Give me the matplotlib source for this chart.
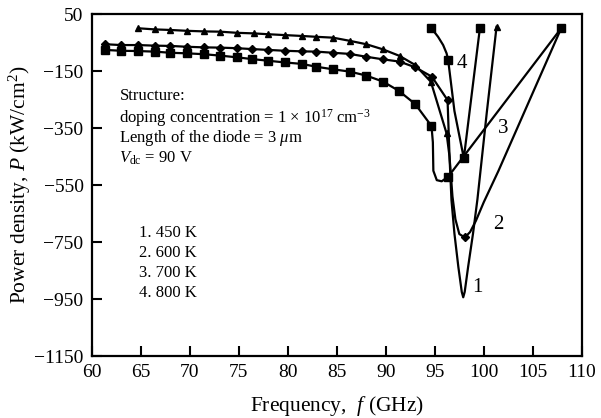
import matplotlib
matplotlib.use("Agg")
import matplotlib.pyplot as plt

plt.rcParams['font.family'] = ['Liberation Serif', 'DejaVu Serif']
plt.rcParams['mathtext.fontset'] = 'custom'
plt.rcParams['mathtext.rm'] = 'Liberation Serif'
plt.rcParams['mathtext.it'] = 'Liberation Serif:italic'
plt.rcParams['mathtext.default'] = 'rm'

# Curve 1 (450 K) - triangles
f1 = [64.7, 66.4, 68.0, 69.7, 71.4, 73.1, 74.8, 76.5, 78.0, 79.7, 81.4, 82.9, 84.6, 86.3, 88.0, 89.7, 91.4, 93.0, 94.6, 96.2,
      96.5, 96.7, 97.0, 97.4, 97.75, 97.9, 98.05, 98.4, 98.9, 99.35, 100.3, 101.3]
p1 = [0, -4, -6, -9, -11, -12, -16, -18, -21, -24, -27, -30, -33, -44, -56, -74, -97, -129, -188, -369,
      -450, -603, -720, -837, -925, -944, -925, -837, -720, -600, -297, 5]
m1 = list(range(20)) + [31]

# Curve 2 (600 K) - diamonds
f2 = [61.3, 63.0, 64.7, 66.4, 68.0, 69.7, 71.4, 73.1, 74.8, 76.3, 78.0, 79.7, 81.4, 82.9, 84.6, 86.3, 88.0, 89.7, 91.4, 93.0, 94.7, 96.3,
      96.5, 96.8, 97.1, 97.5, 98.06, 98.6, 99.2, 100.0, 101.5, 107.9]
p2 = [-56, -59, -59, -61, -62, -65, -67, -68, -70, -73, -76, -79, -81, -82, -86, -90, -100, -109, -117, -137, -170, -252,
      -450, -590, -670, -722, -734, -715, -675, -610, -500, 0]
m2 = list(range(22)) + [26]

# Curve 3 (700 K) - squares
f3 = [61.3, 63.0, 64.7, 66.4, 68.0, 69.7, 71.4, 73.1, 74.8, 76.3, 78.0, 79.7, 81.4, 82.9, 84.6, 86.3, 88.0, 89.7, 91.3, 93.0, 94.66,
      94.8, 94.85, 95.2, 95.7, 96.36, 107.9]
p3 = [-76, -79, -80, -82, -86, -88, -91, -96, -102, -108, -114, -120, -125, -135, -144, -152, -166, -187, -219, -266, -343,
      -400, -500, -533, -537, -521, 0]
m3 = list(range(21)) + [25, 26]

# Curve 4 (800 K) - squares
f4 = [94.66, 95.33, 95.85, 96.2, 96.36, 97.0, 97.96, 99.6]
p4 = [0, -30, -59, -88, -111, -290, -456, 0]
m4 = [0, 4, 6, 7]

xticks = [60, 65, 70, 75, 80, 85, 90, 95, 100, 105, 110]
yticks = [50, -150, -350, -550, -750, -950, -1150]

fig = plt.figure(figsize=(6.01, 4.18), dpi=100)
ax = fig.add_axes([0.153, 0.1483, 0.815, 0.8182])

lw = 1.6
ax.plot(f1, p1, color='black', lw=lw, marker='^', ms=4.5, markevery=m1)
ax.plot(f2, p2, color='black', lw=lw, marker='D', ms=4, markevery=m2)
ax.plot(f3, p3, color='black', lw=lw, marker='s', ms=6, markevery=m3)
ax.plot(f4, p4, color='black', lw=lw, marker='s', ms=6, markevery=m4)

ax.set_xlim(60, 110)
ax.set_ylim(-1150, 50)
ax.set_xticks(xticks)
ax.set_yticks(yticks)
ax.set_yticklabels([str(v).replace('-', '\u2212') for v in yticks])
ax.tick_params(direction='in', length=7, width=1.5, labelsize=14, top=False, right=False, pad=6)
for s in ax.spines.values():
    s.set_linewidth(1.6)

ax.set_xlabel(r'Frequency,  $\it{f}$ (GHz)', fontsize=15.5, labelpad=9)
ax.set_ylabel(r'Power density, $\it{P}$ (kW/cm$^2$)', fontsize=15.5, labelpad=1)

tk = dict(fontsize=12, ha='left', va='center')
ax.text(62.8, -237, 'Structure:', **tk)
ax.text(62.8, -315, r'doping concentration = 1 $\times$ 10$^{17}$ cm$^{-3}$', **tk)
ax.text(62.8, -385, r'Length of the diode = 3 $\it{\mu}$m', **tk)
ax.text(62.8, -455, r'$\it{V}_{\rm dc}$ = 90 V', **tk)

for i, lab in enumerate(['1. 450 K', '2. 600 K', '3. 700 K', '4. 800 K']):
    ax.text(64.8, -718 - 70 * i, lab, fontsize=12, ha='left', va='center')

lk = dict(fontsize=15, ha='center', va='center')
ax.text(99.3, -909, '1', **lk)
ax.text(101.5, -690, '2', **lk)
ax.text(102.0, -351, '3', **lk)
ax.text(97.8, -123, '4', **lk)

fig.savefig('out.png', dpi=100)
